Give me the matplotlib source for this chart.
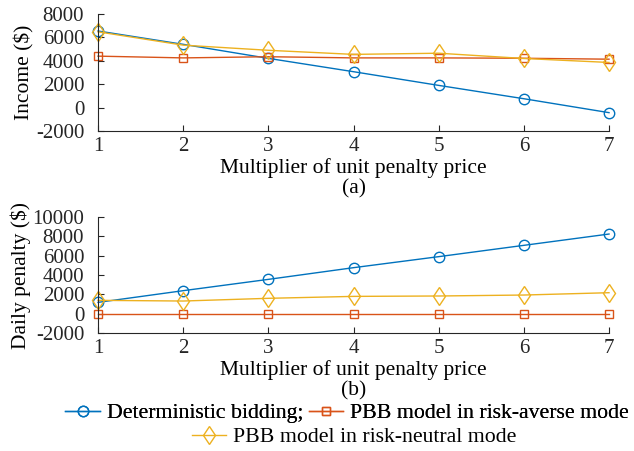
import matplotlib
matplotlib.use('Agg')
import matplotlib.pyplot as plt
from matplotlib.lines import Line2D

# multiplier of unit penalty price
mult = [1, 2, 3, 4, 5, 6, 7]

# (a) income ($)
income_det = [6550, 5410, 4210, 3070, 1900, 760, -430]
income_averse = [4400, 4250, 4350, 4250, 4250, 4220, 4140]
income_neutral = [6480, 5340, 4900, 4550, 4650, 4200, 3860]

# (b) daily penalty ($)
pen_det = [1170, 2380, 3550, 4760, 5900, 7070, 8240]
pen_averse = [0, 0, 0, 0, 0, 0, 0]
pen_neutral = [1380, 1310, 1590, 1790, 1830, 1930, 2170]

labels = ['Deterministic bidding;', 'PBB model in risk-averse mode',
          'PBB model in risk-neutral mode']
colors = ['#0072BD', '#D95319', '#EDB120']
markers = ['o', 's', 'd']
msizes = [7.5, 6, 9.5]

plt.rcParams['font.family'] = ['Liberation Serif', 'DejaVu Serif']
plt.rcParams['font.size'] = 15.5
plt.rcParams['axes.unicode_minus'] = False

fig = plt.figure(figsize=(6.34, 4.51), dpi=100)
ax1 = fig.add_axes([0.1546, 0.7095, 0.806, 0.2594])
ax2 = fig.add_axes([0.1546, 0.2616, 0.806, 0.2572])


def draw(ax, series, ylim, yticks, ylabel, tag):
    for ys, c, m, ms in zip(series, colors, markers, msizes):
        ax.plot(mult, ys, color=c, marker=m, markersize=ms, markerfacecolor='none',
                markeredgewidth=1.0, linewidth=1.0, clip_on=False)
    ax.set_xlim(1, 7)
    ax.set_ylim(*ylim)
    ax.set_yticks(yticks)
    ax.set_xticks(mult)
    ax.spines['top'].set_visible(False)
    ax.spines['right'].set_visible(False)
    for s in ['left', 'bottom']:
        ax.spines[s].set_color('#262626')
        ax.spines[s].set_linewidth(0.8)
    ax.tick_params(direction='in', length=4, width=0.8, colors='#262626',
                   labelcolor='#262626', labelsize=15)
    ax.tick_params(axis='y', pad=10)
    ax.tick_params(axis='x', pad=4)
    ax.set_ylabel(ylabel, labelpad=1)
    ax.set_xlabel('Multiplier of unit penalty price\n' + tag, labelpad=2,
                  linespacing=1.05)


draw(ax1, [income_det, income_averse, income_neutral], (-2000, 8000),
     [-2000, 0, 2000, 4000, 6000, 8000], 'Income ($)', '(a)')
draw(ax2, [pen_det, pen_averse, pen_neutral], (-2000, 10000),
     [-2000, 0, 2000, 4000, 6000, 8000, 10000], 'Daily penalty ($)', '(b)')

handles = []
for c, m, ms in zip(colors, markers, msizes):
    handles.append(Line2D([], [], color=c, marker=m, markersize=ms,
                          markerfacecolor='none', linewidth=1.0))

leg1 = fig.legend(handles[:2], labels[:2], ncol=2, loc='center',
                  bbox_to_anchor=(347 / 634, 1 - 413 / 451), frameon=False,
                  handlelength=1.6, handletextpad=0.3, columnspacing=0.25,
                  borderpad=0, borderaxespad=0, fontsize=15.7)
fig.add_artist(leg1)
fig.legend(handles[2:], labels[2:], loc='center',
           bbox_to_anchor=(354 / 634, 1 - 437 / 451), frameon=False,
           handlelength=1.6, handletextpad=0.3, borderpad=0, borderaxespad=0,
           fontsize=15.7)

fig.savefig('out.png', dpi=100)
